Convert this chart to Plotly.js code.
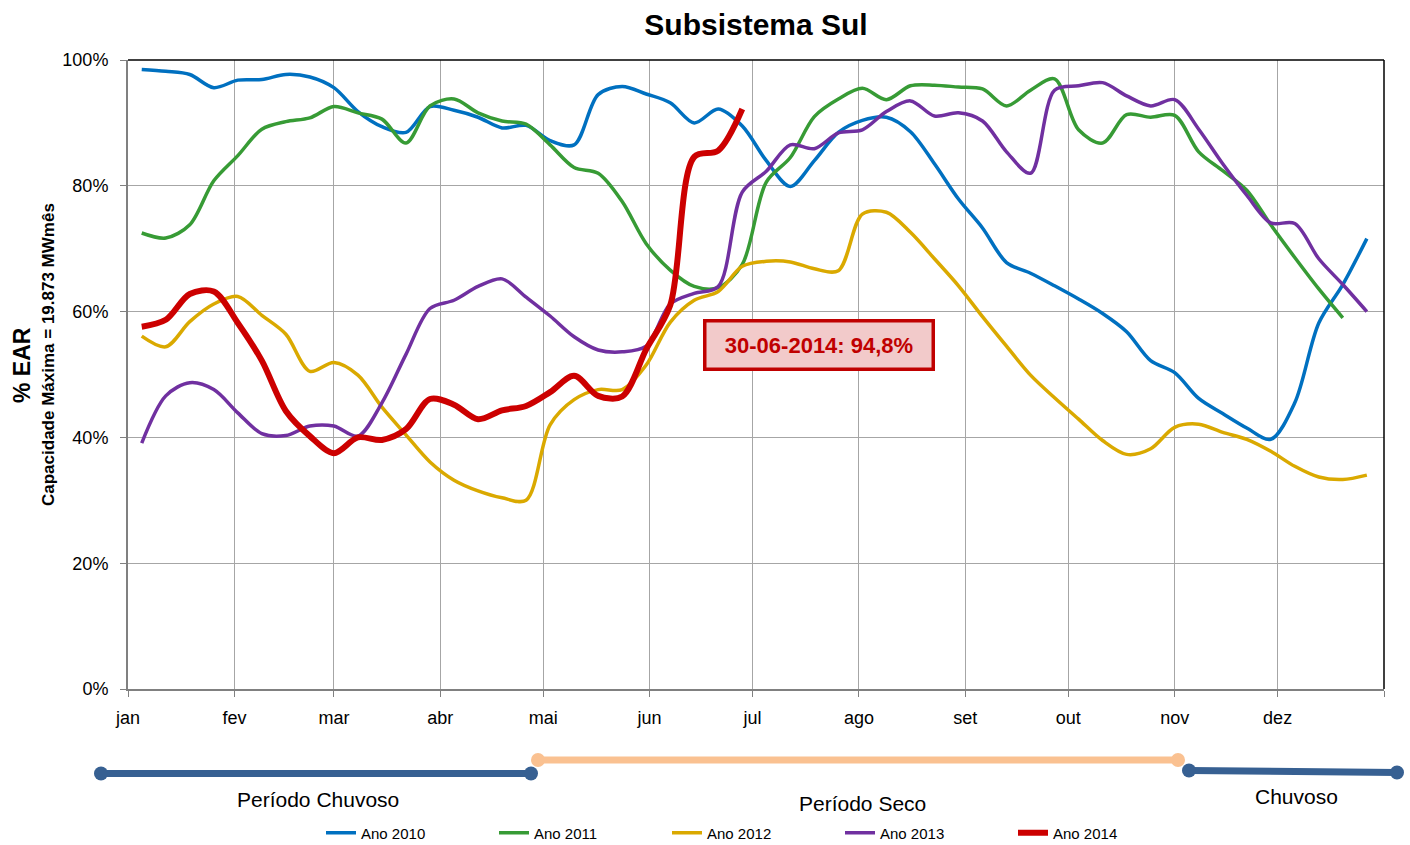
<!DOCTYPE html>
<html>
<head>
<meta charset="utf-8">
<script src="https://cdn.plot.ly/plotly-3.0.1.min.js"></script>
<style>
  html, body { margin: 0; padding: 0; background: #ffffff; }
  #chart { width: 1410px; height: 845px; }
</style>
</head>
<body>
<div id="chart"></div>
<script>
// ---- Data (weekly values, % EAR) ----
const semanas = [
  '2012-01-05','2012-01-12','2012-01-19','2012-01-26','2012-02-02','2012-02-09','2012-02-16','2012-02-23',
  '2012-03-01','2012-03-08','2012-03-15','2012-03-22','2012-03-29','2012-04-05','2012-04-12','2012-04-19',
  '2012-04-26','2012-05-03','2012-05-10','2012-05-17','2012-05-24','2012-05-31','2012-06-07','2012-06-14',
  '2012-06-21','2012-06-28','2012-07-05','2012-07-12','2012-07-19','2012-07-26','2012-08-02','2012-08-09',
  '2012-08-16','2012-08-23','2012-08-30','2012-09-06','2012-09-13','2012-09-20','2012-09-27','2012-10-04',
  '2012-10-11','2012-10-18','2012-10-25','2012-11-01','2012-11-08','2012-11-15','2012-11-22','2012-11-29',
  '2012-12-06','2012-12-13','2012-12-20','2012-12-27'
];

const ano2010 = [98.5,98.2,97.7,95.6,96.8,96.9,97.7,97.3,95.6,91.8,
                 89.4,88.5,92.6,92.0,90.9,89.2,89.6,87.2,86.5,94.5,
                 95.8,94.6,93.2,90.0,92.2,89.5,84.0,79.9,84.0,88.5,
                 90.4,90.9,88.6,83.5,77.9,73.3,67.8,66.1,64.1,62.0,
                 59.7,56.8,52.2,50.3,46.2,43.8,41.5,39.7,45.5,58.2,
                 64.3,71.6];

const ano2011 = [72.5,71.7,73.8,80.8,84.8,89.0,90.2,90.8,92.6,91.6,
                 90.6,86.8,92.7,93.8,91.6,90.3,89.8,86.5,82.9,82.0,
                 77.5,70.8,66.6,64.0,63.8,67.5,80.6,84.5,91.0,93.8,
                 95.5,93.7,95.9,96.0,95.7,95.4,92.7,95.2,97.0,88.9,
                 86.8,91.3,90.9,91.2,85.4,82.4,79.3,73.8,68.6,63.6,
                 59.0];

const ano2012 = [56.1,54.4,58.4,61.2,62.4,59.4,56.4,50.5,51.9,49.9,
                 44.8,40.4,36.1,33.2,31.5,30.4,30.0,42.0,46.0,47.6,
                 47.6,51.5,58.3,61.8,63.2,67.2,68.0,67.9,66.8,66.5,
                 75.5,75.8,72.6,68.4,64.1,59.2,54.5,49.9,46.3,42.9,
                 39.5,37.3,38.2,41.6,42.1,40.8,39.7,37.8,35.4,33.7,
                 33.3,34.0];

const ano2013 = [39.1,46.6,48.7,47.6,43.9,40.6,40.3,41.8,41.8,40.2,
                 45.5,53.2,60.5,61.8,64.0,65.2,62.3,59.3,56.0,53.9,
                 53.6,54.5,61.2,62.9,64.0,79.0,82.3,86.5,85.9,88.4,
                 88.9,91.8,93.5,91.1,91.6,90.3,85.4,82.0,95.2,95.9,
                 96.4,94.3,92.7,93.7,89.0,83.5,78.5,74.1,74.0,68.4,
                 64.3,60.0];

const ano2014 = [57.6,58.7,62.8,63.2,58.2,52.2,44.2,40.2,37.5,40.0,
                 39.6,41.3,46.1,45.2,42.9,44.3,45.0,47.2,49.8,46.6,
                 46.5,54.0,61.0,84.6,85.6,92.2];

const seriesNames = ['Ano 2010','Ano 2011','Ano 2012','Ano 2013','Ano 2014'];
const monthTicks = ['2012-01-01','2012-02-01','2012-03-01','2012-04-01','2012-05-01','2012-06-01',
                    '2012-07-01','2012-08-01','2012-09-01','2012-10-01','2012-11-01','2012-12-01','2013-01-01'];
const monthLabels = ['jan','fev','mar','abr','mai','jun','jul','ago','set','out','nov','dez',''];
const yTicks = [0,20,40,60,80,100];
const periodLabels = ['Período Chuvoso','Período Seco','Chuvoso'];
const calloutText = '30-06-2014: 94,8%';

// ---- Styling ----
const FONT = "'Liberation Sans', Arial, sans-serif";
const colors = ['#0070C0','#379B35','#DAA900','#7030A0','#CC0000'];
const widths = [3.5,3.5,3.5,3.5,6];
const allSeries = [ano2010, ano2011, ano2012, ano2013, ano2014];

const traces = allSeries.map((vals, i) => ({
  type: 'scatter',
  mode: 'lines',
  name: seriesNames[i],
  x: semanas.slice(0, vals.length),
  y: vals,
  line: { color: colors[i], width: widths[i], shape: 'spline', smoothing: 0.9 },
  hoverinfo: 'skip'
}));

// plot area in pixels: x 128..1384, y 60..689
const W = 1410, H = 845;
const L = 128, R = 1384, T = 60, B = 689;
const pw = R - L, ph = B - T;
const px = v => (v - L) / pw;      // pixel -> paper x
const py = v => (B - v) / ph;      // pixel -> paper y

const darkBlue = '#376092', peach = '#FAC191';

function bar(x0, y0, x1, y1, color) {
  const s = [{
    type: 'line', xref: 'paper', yref: 'paper',
    x0: px(x0), y0: py(y0), x1: px(x1), y1: py(y1),
    line: { color: color, width: 7 }, layer: 'above'
  }];
  [[x0, y0], [x1, y1]].forEach(([cx, cy]) => {
    s.push({
      type: 'circle', xref: 'paper', yref: 'paper',
      xsizemode: 'pixel', ysizemode: 'pixel',
      xanchor: px(cx), yanchor: py(cy),
      x0: -7, x1: 7, y0: -7, y1: 7,
      fillcolor: color, line: { width: 0 }, layer: 'above'
    });
  });
  return s;
}

const shapes = [
  { type: 'line', xref: 'paper', yref: 'paper', x0: 0, x1: 1, y0: 1, y1: 1, line: { color: '#000000', width: 1.5 } },
  { type: 'line', xref: 'paper', yref: 'paper', x0: 1, x1: 1, y0: 0, y1: 1, line: { color: '#000000', width: 1.5 } },
  ...bar(101, 773.5, 531, 773.5, darkBlue),
  ...bar(538, 760, 1178, 760, peach),
  ...bar(1189, 770.5, 1397, 772.5, darkBlue)
];

const annotations = [
  { xref: 'paper', yref: 'paper', x: px(22), y: py(365), text: '<b>% EAR</b>', textangle: -90,
    showarrow: false, font: { family: FONT, size: 23, color: '#000' }, xanchor: 'center', yanchor: 'middle' },
  { xref: 'paper', yref: 'paper', x: px(48), y: py(355), text: '<b>Capacidade Máxima = 19.873 MWmês</b>', textangle: -90,
    showarrow: false, font: { family: FONT, size: 17, color: '#000' }, xanchor: 'center', yanchor: 'middle' },
  { xref: 'paper', yref: 'paper', x: px(819), y: py(345), text: '<b>' + calloutText + '</b>',
    showarrow: false, font: { family: FONT, size: 22, color: '#C00000' },
    width: 205, align: 'center',
    bgcolor: '#F2CACA', bordercolor: '#C00000', borderwidth: 3.5, borderpad: 10,
    xanchor: 'center', yanchor: 'middle' },
  { xref: 'paper', yref: 'paper', x: px(318), y: py(799), text: periodLabels[0], showarrow: false,
    font: { family: FONT, size: 21, color: '#000' }, xanchor: 'center', yanchor: 'middle' },
  { xref: 'paper', yref: 'paper', x: px(863), y: py(803), text: periodLabels[1], showarrow: false,
    font: { family: FONT, size: 21, color: '#000' }, xanchor: 'center', yanchor: 'middle' },
  { xref: 'paper', yref: 'paper', x: px(1296), y: py(796), text: periodLabels[2], showarrow: false,
    font: { family: FONT, size: 21, color: '#000' }, xanchor: 'center', yanchor: 'middle' }
];

const layout = {
  width: W, height: H,
  margin: { l: L, r: W - R, t: T, b: H - B, pad: 0, autoexpand: false },
  paper_bgcolor: '#ffffff', plot_bgcolor: '#ffffff',
  font: { family: FONT, color: '#000000' },
  title: { text: '<b>Subsistema Sul</b>', font: { family: FONT, size: 30, color: '#000' },
           x: px(756), xref: 'paper', xanchor: 'center', y: 1 - 24 / H, yanchor: 'middle' },
  xaxis: {
    type: 'date',
    range: ['2012-01-01', '2013-01-01'],
    tickmode: 'array', tickvals: monthTicks, ticktext: monthLabels,
    ticks: 'outside', ticklen: 6, tickcolor: '#808080', tickwidth: 1,
    showgrid: true, gridcolor: '#A6A6A6', gridwidth: 1,
    showline: true, linecolor: '#808080', linewidth: 2,
    zeroline: false,
    tickfont: { family: FONT, size: 18, color: '#000' },
    ticklabelstandoff: 5,
    fixedrange: true
  },
  yaxis: {
    range: [0, 100],
    tickmode: 'array', tickvals: yTicks, ticktext: yTicks.map(v => v + '%'),
    ticks: 'outside', ticklen: 6, tickcolor: '#808080', tickwidth: 1,
    showgrid: true, gridcolor: '#A6A6A6', gridwidth: 1,
    showline: true, linecolor: '#808080', linewidth: 2,
    zeroline: false,
    tickfont: { family: FONT, size: 18, color: '#000' },
    ticklabelstandoff: 8,
    fixedrange: true
  },
  showlegend: true,
  legend: {
    orientation: 'h',
    x: px(321), xanchor: 'left',
    y: py(833), yanchor: 'middle',
    font: { family: FONT, size: 15, color: '#000' },
    entrywidth: 128, entrywidthmode: 'pixels',
    itemwidth: 30,
    bgcolor: 'rgba(0,0,0,0)',
    traceorder: 'normal'
  },
  shapes: shapes,
  annotations: annotations
};

Plotly.newPlot('chart', traces, layout, { displayModeBar: false, staticPlot: true });
</script>
</body>
</html>
